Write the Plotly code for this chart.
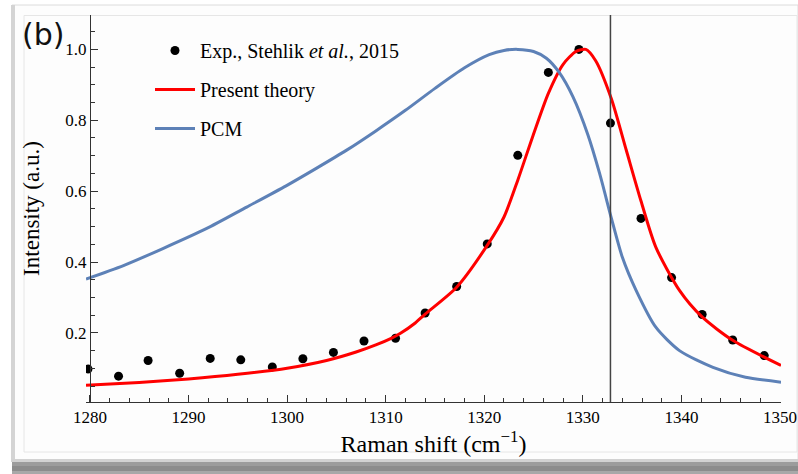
import plotly.graph_objects as go

# ---------------- data ----------------
exp_x = [1279.8, 1282.9, 1285.9, 1289.1, 1292.2, 1295.3, 1298.5, 1301.6, 1304.7, 1307.8,
         1311.0, 1314.0, 1317.2, 1320.3, 1323.4, 1326.5, 1329.6, 1332.8, 1335.9, 1339.0,
         1342.1, 1345.2, 1348.4]
exp_y = [0.098, 0.078, 0.122, 0.086, 0.128, 0.124, 0.104, 0.127, 0.145, 0.177,
         0.185, 0.256, 0.331, 0.451, 0.701, 0.935, 1.0, 0.792, 0.523, 0.356,
         0.252, 0.180, 0.136]

theory_x = [1279.6, 1285.0, 1290.0, 1295.0, 1300.0, 1304.0, 1307.0, 1309.0, 1310.5, 1311.5,
            1313.0, 1314.0, 1317.2, 1320.3, 1322.0, 1323.4, 1324.9, 1326.5, 1328.0, 1329.3,
            1330.3, 1331.3, 1332.9, 1334.4, 1335.9, 1337.4, 1339.8, 1342.1, 1345.2, 1350.1]
theory_y = [0.052, 0.060, 0.070, 0.083, 0.100, 0.122, 0.146, 0.166, 0.184, 0.199,
            0.228, 0.253, 0.329, 0.447, 0.527, 0.631, 0.753, 0.876, 0.958, 0.994,
            1.0, 0.968, 0.860, 0.716, 0.572, 0.442, 0.320, 0.245, 0.179, 0.108]

pcm_x = [1279.6, 1283.4, 1287.4, 1291.8, 1295.9, 1299.9, 1303.0, 1306.0, 1309.0, 1312.0,
         1315.0, 1318.0, 1320.5, 1322.0, 1323.4, 1325.0, 1326.3, 1327.6, 1329.0, 1330.5,
         1331.7, 1332.9, 1334.0, 1335.4, 1337.4, 1339.8, 1343.2, 1346.5, 1350.1]
pcm_y = [0.352, 0.390, 0.438, 0.494, 0.555, 0.615, 0.665, 0.715, 0.770, 0.828,
         0.890, 0.948, 0.985, 0.997, 1.0, 0.994, 0.975, 0.935, 0.866, 0.760,
         0.650, 0.523, 0.414, 0.320, 0.216, 0.150, 0.103, 0.075, 0.061]

ref_line_x = 1332.8  # diamond Raman line

x_ticks = [1280, 1290, 1300, 1310, 1320, 1330, 1340, 1350]
y_ticks = [0.2, 0.4, 0.6, 0.8, 1.0]

legend_names = ["Exp., Stehlik <i>et al.</i>, 2015", "Present theory", "PCM"]

# ---------------- layout constants ----------------
W, H = 798, 474
ML, MR, MT, MB = 86, 17, 15, 72
PW, PH = W - ML - MR, H - MT - MB
SERIF = "Liberation Serif"


def px(xp):
    return (xp - ML) / PW


def py(yp):
    return (H - MB - yp) / PH


fig = go.Figure()

fig.add_trace(go.Scatter(
    x=exp_x, y=exp_y, mode="markers", name=legend_names[0], legendgroup="a",
    marker=dict(color="black", size=9), cliponaxis=True))
fig.add_trace(go.Scatter(
    x=theory_x, y=theory_y, mode="lines", name=legend_names[1], legendgroup="b",
    line=dict(color="#ff0000", width=3, shape="spline", smoothing=0.7)))
fig.add_trace(go.Scatter(
    x=pcm_x, y=pcm_y, mode="lines", name=legend_names[2], legendgroup="c",
    line=dict(color="#5d81b7", width=3, shape="spline", smoothing=0.7)))

shapes = []
# vertical reference line
shapes.append(dict(type="line", xref="x", yref="paper", x0=ref_line_x, x1=ref_line_x,
                   y0=0, y1=1, line=dict(color="#444444", width=1.5), layer="above"))


# screenshot frame decoration
def rect(x0, y0, x1, y1, fill=None, line=None, lw=0):
    d = dict(type="rect", xref="paper", yref="paper", x0=px(x0), x1=px(x1),
             y0=py(y1), y1=py(y0), layer="below")
    d["fillcolor"] = fill if fill else "rgba(0,0,0,0)"
    d["line"] = dict(color=line if line else "rgba(0,0,0,0)", width=lw)
    return d


shapes.append(rect(12, 5, 798, 462, fill="#fdfdfd", line="#dcdcdc", lw=1))
shapes.append(rect(11, 5, 15, 462, fill="#d4d4d4"))
shapes.append(rect(24, 15.5, 797, 452, line="#e6e6e6", lw=1))
shapes.append(rect(12, 459, 798, 462, fill="#d2d2d2"))
shapes.append(rect(12, 462, 798, 466, fill="#9c9c9c"))
shapes.append(rect(12, 466, 798, 471, fill="#8c8c8c"))
shapes.append(rect(12, 471, 798, 474, fill="#a8a8a8"))

axis_common = dict(
    showline=True, linecolor="#333333", linewidth=1,
    ticks="inside", ticklen=7, tickwidth=1, tickcolor="#333333",
    showgrid=False, zeroline=False, mirror=False, automargin=False,
    tickfont=dict(family=SERIF, size=17, color="black"),
)

fig.update_layout(
    width=W, height=H,
    margin=dict(l=ML, r=MR, t=MT, b=MB, pad=0, autoexpand=False),
    paper_bgcolor="white", plot_bgcolor="rgba(0,0,0,0)",
    showlegend=True,
    legend=dict(x=px(150), y=py(31), xanchor="left", yanchor="top",
                bgcolor="rgba(0,0,0,0)", borderwidth=0,
                font=dict(family=SERIF, size=20, color="black"),
                traceorder="grouped", tracegroupgap=10, itemwidth=40),
    xaxis=dict(range=[1279.6, 1350.1], tickvals=x_ticks,
               minor=dict(dtick=2, tick0=1280, ticks="inside", ticklen=4,
                          tickcolor="#333333"),
               title=dict(text="Raman shift (cm<sup>\u22121</sup>)",
                          font=dict(family=SERIF, size=24, color="black"), standoff=3),
               **axis_common),
    yaxis=dict(range=[0.005, 1.097], tickvals=y_ticks, tickformat=".1f",
               anchor="free", position=px(90),
               minor=dict(dtick=0.05, tick0=0, ticks="inside", ticklen=4,
                          tickcolor="#333333"),
               title=dict(text="Intensity (a.u.)",
                          font=dict(family=SERIF, size=23, color="black"), standoff=18),
               **axis_common),
    shapes=shapes,
    annotations=[dict(text="(b)", xref="paper", yref="paper", x=px(43), y=py(34),
                      xanchor="center", yanchor="middle", showarrow=False,
                      font=dict(family="DejaVu Sans", size=30, color="#111111"))],
)

fig.write_html("out.html",
               config={"displayModeBar": False},
               post_script="document.body.style.margin='0';"
                           "document.body.style.overflow='hidden';")
